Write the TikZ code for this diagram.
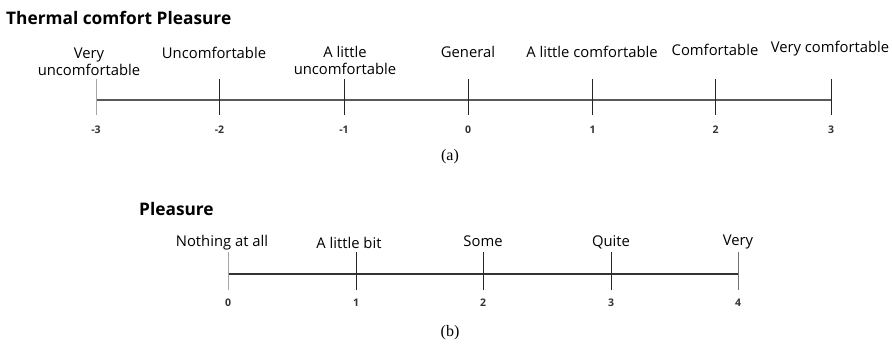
\documentclass[tikz,border=0pt]{standalone}
\usepackage{fontspec}
\setmainfont{Open Sans}
\newfontfamily\capfont{Liberation Serif}
\begin{document}
\begin{tikzpicture}[x=1pt,y=-1pt,
  lbl/.style={inner sep=0pt, align=center, font=\fontsize{14.8}{17}\selectfont, text=black},
  num/.style={inner sep=0pt, font=\fontsize{10.5}{12}\selectfont\bfseries, text=black!80},
  ttl/.style={inner sep=0pt, anchor=west, font=\fontsize{17.3}{20}\selectfont\bfseries},
  subcap/.style={inner sep=0pt, font=\capfont\fontsize{16}{18}\selectfont},
  axis/.style={line width=1.4pt, draw=black!65},
  tick/.style={line width=0.9pt, draw=black!85},
  tickg/.style={line width=0.9pt, draw=black!35}]
\useasboundingbox (0,0) rectangle (892,345);
% ---- (a) ----
\node[ttl] (t1) at (6,18) {Thermal comfort Pleasure};
\foreach \i/\x/\n in {0/96/-3,1/219.5/-2,2/344/-1,3/468/0,4/592.5/1,5/715.5/2,6/831/3}{
  \coordinate (a\i) at (\x,100);
  \coordinate (a\i t) at (\x,79);
  \coordinate (a\i b) at (\x,115);
  \node[num] (an\i) at (\x,130) {\n};
}
\draw[axis] (a0) -- (a6);
\draw[tickg] (a0t) -- (a0b);
\foreach \i in {1,...,6}{\draw[tick] (a\i t) -- (a\i b);}
\node[lbl] (al0) at (89,61.5) {Very\\uncomfortable};
\node[lbl] (al1) at (214,53) {Uncomfortable};
\node[lbl] (al2) at (345,60) {A little\\uncomfortable};
\node[lbl] (al3) at (468,52) {General};
\node[lbl] (al4) at (592,52) {A little comfortable};
\node[lbl] (al5) at (715,50) {Comfortable};
\node[lbl] (al6) at (830,49) {Very comfortable};
\node[subcap] (ca) at (450,157) {(a)};
% ---- (b) ----
\node[ttl] (t2) at (139,209) {Pleasure};
\foreach \i/\x in {0/228,1/356,2/483,3/611,4/738}{
  \coordinate (b\i) at (\x,274);
  \coordinate (b\i t) at (\x,252);
  \coordinate (b\i b) at (\x,290);
  \node[num] (bn\i) at (\x,303) {\i};
}
\draw[axis,draw=black!80] (b0) -- (b4);
\draw[tickg] (b0t) -- (b0b);
\foreach \i in {1,2,3}{\draw[tick] (b\i t) -- (b\i b);}
\draw[tickg,draw=black!55] (b4t) -- (b4b);
\node[lbl] (bl0) at (222,243) {Nothing at all};
\node[lbl] (bl1) at (349,243) {A little bit};
\node[lbl] (bl2) at (483,241) {Some};
\node[lbl] (bl3) at (611,242) {Quite};
\node[lbl] (bl4) at (738,242) {Very};
\node[subcap] (cb) at (450,333) {(b)};
\end{tikzpicture}
\end{document}
